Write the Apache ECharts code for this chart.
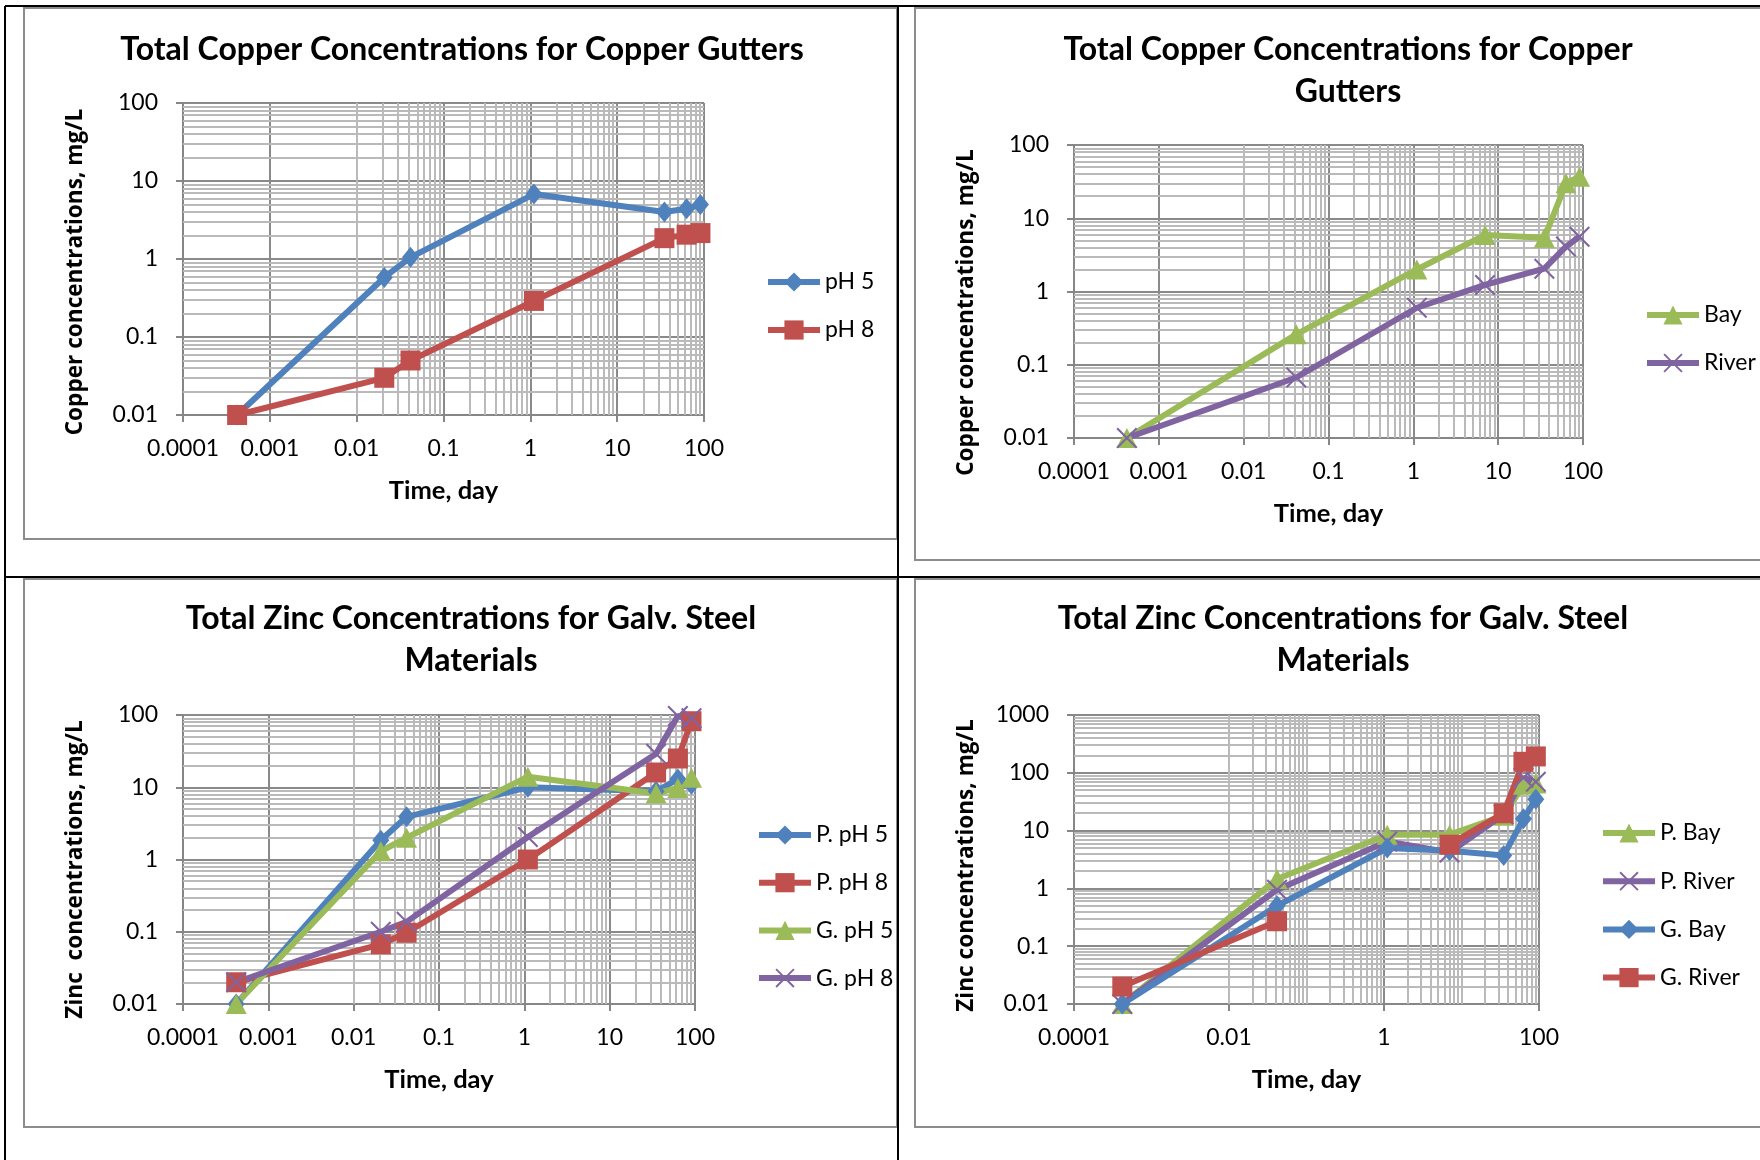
<!DOCTYPE html>
<html><head><meta charset="utf-8">
<script src="https://cdn.jsdelivr.net/npm/echarts@6/dist/echarts.min.js"></script>
<style>html,body{margin:0;padding:0;background:#fff}#c{width:1760px;height:1160px}</style>
</head><body><div id="c"></div>
<script>
// ---------------- data ----------------
// Panel 1: Total Copper, copper gutters (pH)
const timeCu1 = [0.00042, 0.0208, 0.0417, 1.1, 35, 63, 91];
const cuPH5   = [0.01, 0.58, 1.05, 6.8, 4.0, 4.4, 5.0];
const cuPH8   = [0.01, 0.03, 0.05, 0.29, 1.85, 2.05, 2.15];
// Panel 2: Total Copper, copper gutters (Bay / River)
const timeCu2 = [0.00042, 0.0417, 1.1, 7, 35, 63, 91];
const cuBay   = [0.01, 0.26, 2.0, 5.9, 5.4, 30, 37];
const cuRiver = [0.01, 0.067, 0.6, 1.23, 2.05, 4.1, 5.6];
// Panel 3: Total Zinc, galv. steel (pH)
const timeZn1 = [0.00042, 0.0208, 0.0417, 1.1, 35, 63, 91];
const znPpH5  = [0.01, 1.85, 3.9, 10, 8.8, 13, 11];
const znPpH8  = [0.02, 0.067, 0.097, 1.0, 16, 25, 82];
const znGpH5  = [0.01, 1.3, 2.0, 14, 8.2, 9.8, 13.5];
const znGpH8  = [0.02, 0.1, 0.137, 2.05, 29, 97, 90];
// Panel 4: Total Zinc, galv. steel (Bay / River)
const timeZn2  = [0.00042, 0.0417, 1.1, 7, 35, 63, 91];
const znPBay   = [0.01, 1.45, 8.5, 8.5, 18, 62, 65];
const znPRiver = [0.01, 0.95, 6.5, 4.2, 19, 82, 70];
const znGBay   = [0.01, 0.5, 5.0, 4.5, 3.7, 16, 35];
const znGRiver = [0.02, 0.27, null, 5.7, 20, 155, 192];

// tick labels
const xTicks6   = ['0.0001','0.001','0.01','0.1','1','10','100'];
const xTicks2   = ['0.0001','0.01','1','100'];
const yTicks100 = ['0.01','0.1','1','10','100'];
const yTicks1k  = ['0.01','0.1','1','10','100','1000'];

// texts
const titles = [
  'Total Copper Concentrations for Copper Gutters',
  'Total Copper Concentrations for Copper\nGutters',
  'Total Zinc Concentrations for Galv. Steel\nMaterials',
  'Total Zinc Concentrations for Galv. Steel\nMaterials'
];
const yNames = ['Copper concentrations, mg/L','Copper concentrations, mg/L','Zinc  concentrations, mg/L','Zinc concentrations, mg/L'];
const xName = 'Time, day';

// ---------------- styling / helpers ----------------
const C = {blue:'#4F81BD', red:'#C0504D', green:'#9BBB59', purple:'#8064A2'};
const XSYM = 'path://M0,7 L7,0 L50,43 L93,0 L100,7 L57,50 L100,93 L93,100 L50,57 L7,100 L0,93 L43,50 Z';
const MARK = {
  diamond: {symbol:'diamond', size:[17,21]},
  square:  {symbol:'rect', size:[20,20]},
  tri:     {symbol:'triangle', size:[21,20]},
  x:       {symbol:XSYM, size:[21,21]}
};
const LINE_W = 6;
const fmt = ticks => v => {
  const t = ticks.find(s => Math.abs(Math.log10(+s) - Math.log10(v)) < 1e-6);
  return t || '';
};
function ser(name, times, vals, mk, color, gi){
  return {
    type:'line', name, xAxisIndex:gi, yAxisIndex:gi,
    data: times.map((t,i)=>[t, vals[i]]),
    symbol: MARK[mk].symbol, symbolSize: MARK[mk].size, showAllSymbol:true,
    connectNulls:false, z:2,
    color: color,
    lineStyle:{color:color, width:LINE_W},
    itemStyle:{color:color}
  };
}
function minorVals(e0, e1, majorExps){
  const out = [];
  for (let e=e0; e<e1; e++){
    for (let k=1; k<=9; k++){
      if (k===1 && majorExps.includes(e)) continue;
      out.push(+(k*Math.pow(10,e)).toPrecision(6));
    }
  }
  return out;
}
function range(a,b){const r=[];for(let i=a;i<=b;i++)r.push(i);return r;}
function gridSeries(gi, xs, ys){
  return {
    type:'line', xAxisIndex:gi, yAxisIndex:gi, data:[], silent:true, z:1,
    markLine:{
      silent:true, z:1, animation:false, symbol:['none','none'],
      label:{show:false}, emphasis:{disabled:true},
      lineStyle:{color:'#bababa', width:2, type:'solid'},
      data: xs.map(v=>({xAxis:v})).concat(ys.map(v=>({yAxis:v})))
    }
  };
}

const grids = [
  {left:183,  top:103, width:521, height:312},
  {left:1074, top:145, width:509, height:293},
  {left:183,  top:715, width:512, height:289},
  {left:1074, top:715, width:465, height:289}
];
const axisGray = '#868686', majorGray = '#8a8a8a';
function xAx(gi, ticks, extra){
  return Object.assign({
    type:'log', logBase:10, gridIndex:gi, min:0.0001, max:100,
    axisLine:{show:true, onZero:false, lineStyle:{color:axisGray, width:2}},
    axisTick:{show:true, inside:false, length:7, lineStyle:{color:axisGray, width:2}},
    minorTick:{show:false}, minorSplitLine:{show:false},
    splitLine:{show:true, lineStyle:{color:majorGray, width:2}},
    axisLabel:{formatter:fmt(ticks), fontFamily:'Lato', fontSize:23, color:'#000', margin:22, hideOverlap:false},
    name:xName, nameLocation:'middle', nameGap:63,
    nameTextStyle:{fontFamily:'Lato', fontWeight:'bold', fontSize:25.5, color:'#000'}
  }, extra||{});
}
function yAx(gi, ticks, max, nm, shift){
  return {
    type:'log', logBase:10, gridIndex:gi, min:0.01, max:max,
    axisLine:{show:true, onZero:false, lineStyle:{color:axisGray, width:2}},
    axisTick:{show:true, inside:false, length:7, lineStyle:{color:axisGray, width:2}},
    minorTick:{show:false}, minorSplitLine:{show:false},
    splitLine:{show:true, lineStyle:{color:majorGray, width:2}},
    axisLabel:{formatter:fmt(ticks), fontFamily:'Lato', fontSize:23, color:'#000', margin:25, hideOverlap:false},
    name:nm, nameLocation:'middle', nameGap:96,
    nameTextStyle:{fontFamily:'Open Sans', fontWeight:'bold', fontSize:22.6, color:'#000', padding:[0, shift*2, 0, 0]}
  };
}
function legend(names, left, top, gap){
  return {
    data:names, orient:'vertical', left, top, padding:0,
    itemWidth:52, itemHeight:24, itemGap:gap, selectedMode:false,
    lineStyle:{width:LINE_W},
    textStyle:{fontFamily:'Lato', fontSize:23, color:'#000', lineHeight:24}
  };
}
function title(text, cx, top){
  return {text, left:cx, top, textAlign:'center', padding:0,
    textStyle:{fontFamily:'Lato', fontWeight:'bold', fontSize:32, lineHeight:42, color:'#000'}};
}

const option = {
  animation:false,
  backgroundColor:'#fff',
  title:[ title(titles[0], 462, 29), title(titles[1], 1348, 29), title(titles[2], 471, 598), title(titles[3], 1343, 598) ],
  legend:[
    legend(['pH 5','pH 8'], 765, 270, 24),
    legend(['Bay','River'], 1644, 303, 24),
    legend(['P. pH 5','P. pH 8','G. pH 5','G. pH 8'], 756, 823, 23.7),
    legend(['P. Bay','P. River','G. Bay','G. River'], 1600, 821, 24.2)
  ],
  grid: grids,
  xAxis:[ xAx(0, xTicks6), xAx(1, xTicks6), xAx(2, xTicks6), xAx(3, xTicks2, {interval:2}) ],
  yAxis:[ yAx(0, yTicks100, 100, yNames[0], 13), yAx(1, yTicks100, 100, yNames[1], 21),
          yAx(2, yTicks100, 100, yNames[2], 10), yAx(3, yTicks1k, 1000, yNames[3], 6) ],
  series:[
    gridSeries(0, minorVals(-4,2,range(-4,2)), minorVals(-2,2,range(-2,2))),
    gridSeries(1, minorVals(-4,2,range(-4,2)), minorVals(-2,2,range(-2,2))),
    gridSeries(2, minorVals(-4,2,range(-4,2)), minorVals(-2,2,range(-2,2))),
    gridSeries(3, minorVals(-4,2,[-4,-2,0,2]), minorVals(-2,3,range(-2,3))),
    ser('pH 5', timeCu1, cuPH5, 'diamond', C.blue, 0),
    ser('pH 8', timeCu1, cuPH8, 'square', C.red, 0),
    ser('Bay', timeCu2, cuBay, 'tri', C.green, 1),
    ser('River', timeCu2, cuRiver, 'x', C.purple, 1),
    ser('P. pH 5', timeZn1, znPpH5, 'diamond', C.blue, 2),
    ser('P. pH 8', timeZn1, znPpH8, 'square', C.red, 2),
    ser('G. pH 5', timeZn1, znGpH5, 'tri', C.green, 2),
    ser('G. pH 8', timeZn1, znGpH8, 'x', C.purple, 2),
    ser('P. Bay', timeZn2, znPBay, 'tri', C.green, 3),
    ser('P. River', timeZn2, znPRiver, 'x', C.purple, 3),
    ser('G. Bay', timeZn2, znGBay, 'diamond', C.blue, 3),
    ser('G. River', timeZn2, znGRiver, 'square', C.red, 3)
  ],
  graphic:[
    // chart-area borders
    {type:'rect', silent:true, z:-1, shape:{x:24, y:8, width:873, height:531}, style:{fill:null, stroke:'#8c8c8c', lineWidth:2}},
    {type:'rect', silent:true, z:-1, shape:{x:915, y:8, width:870, height:552}, style:{fill:null, stroke:'#8c8c8c', lineWidth:2}},
    {type:'rect', silent:true, z:-1, shape:{x:24, y:579, width:873, height:548}, style:{fill:null, stroke:'#8c8c8c', lineWidth:2}},
    {type:'rect', silent:true, z:-1, shape:{x:915, y:579, width:870, height:548}, style:{fill:null, stroke:'#8c8c8c', lineWidth:2}},
    // table lines
    {type:'line', silent:true, z:10, shape:{x1:5, y1:6, x2:1760, y2:6}, style:{stroke:'#000', lineWidth:2}},
    {type:'line', silent:true, z:10, shape:{x1:5, y1:6, x2:5, y2:1160}, style:{stroke:'#000', lineWidth:2}},
    {type:'line', silent:true, z:10, shape:{x1:898, y1:6, x2:898, y2:1160}, style:{stroke:'#000', lineWidth:2}},
    {type:'line', silent:true, z:10, shape:{x1:5, y1:577, x2:1760, y2:577}, style:{stroke:'#000', lineWidth:2}}
  ]
};
const chart = echarts.init(document.getElementById('c'), null, {renderer:'canvas'});
chart.setOption(option);
</script></body></html>
